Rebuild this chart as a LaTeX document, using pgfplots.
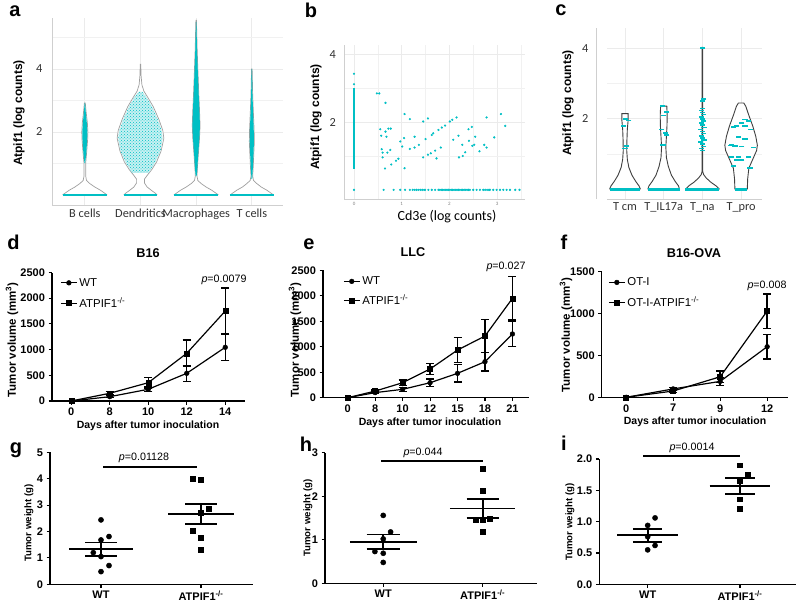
\documentclass[border=0pt]{standalone}
\usepackage{pgfplots}
\pgfplotsset{compat=1.18}
\usetikzlibrary{patterns}
\usepackage{fontspec}
\setmainfont{Liberation Sans}
\newfontfamily\calib{Carlito}
\definecolor{gg}{HTML}{00BFC4}
\definecolor{gridc}{HTML}{EBEBEB}
\definecolor{axc}{HTML}{CFCFCF}
\newcommand\fs[1]{\fontsize{#1}{#1}\selectfont}
\begin{document}
\begin{tikzpicture}
\useasboundingbox (0pt,0pt) rectangle (800pt,-610pt);
\pgfplotsset{
  ggbase/.style={scale only axis, clip=false, anchor=south west,
    axis x line*=bottom, axis y line*=left,
    axis line style={axc, line width=0.8pt},
    major tick length=0pt, minor tick length=0pt,
    grid=both, major grid style={gridc, line width=0.8pt}, minor grid style={gridc!70, line width=0.6pt},
    tick label style={font=\calib\fs{12.3}, text=black!80},
    /pgf/number format/assume math mode=true},
  gp/.style={scale only axis, clip=false, anchor=south west,
    axis x line*=bottom, axis y line*=left,
    axis line style={black, line width=1.1pt},
    tick style={black, line width=1.1pt}, tick align=outside, major tick length=3.5pt,
    tick label style={font=\bfseries\fs{11}},
    /pgf/number format/assume math mode=true, /pgf/number format/1000 sep={},
    legend style={draw=none, fill=none, inner sep=0pt, font=\fs{11.4}, cells={anchor=west}},
    legend image code/.code={\draw[mark repeat=2,mark phase=2,##1] plot coordinates {(0pt,0pt)(8pt,0pt)(16pt,0pt)};}},
  ebar/.style={error bars/y dir=both, error bars/y explicit,
    error bars/error bar style={line width=1.4pt, solid},
    error bars/error mark options={rotate=90, line width=1.4pt, mark size=4pt}},
  lineA/.style={black, line width=1.2pt, mark=*, mark size=2.4pt, mark options={solid,line width=0.4pt}, ebar},
  lineB/.style={black, line width=1.2pt, mark=square*, mark size=2.5pt, mark options={solid,line width=0.4pt}, ebar},
  vio/.style={draw=gray!75, line width=0.7pt, fill=white},
  vioc/.style={draw=black!75, line width=0.9pt, fill=white},
  dotp/.style={only marks, mark=*, mark size=2.6pt, black},
  sqp/.style={only marks, mark=square*, mark size=2.4pt, black},
  meanl/.style={black, line width=1.8pt},
}

% ---------------- panel a ----------------
\begin{axis}[ggbase, at={(52pt,-205pt)}, width=231pt, height=187pt,
  xmin=0.41, xmax=4.56, ymin=-0.32, ymax=5.62,
  xtick={1,2,3,4}, xticklabels={B cells, Dendritics, Macrophages, T cells},
  ytick={2,4}, minor ytick={1,3,5}, yticklabel style={xshift=-6pt}]
% B cells
\addplot[vio] table[row sep=\\, x expr=\thisrow{w}+1, y=y] {w y\\
0.40 0\\ 0.36 0.05\\ 0.28 0.15\\ 0.18 0.25\\ 0.09 0.36\\ 0.03 0.46\\ 0.015 0.6\\ 0.015 1.0\\ 0.03 1.3\\ 0.05 1.75\\ 0.055 2.0\\ 0.045 2.3\\ 0.025 2.6\\ 0.008 2.92\\
-0.008 2.92\\ -0.025 2.6\\ -0.045 2.3\\ -0.055 2.0\\ -0.05 1.75\\ -0.03 1.3\\ -0.015 1.0\\ -0.015 0.6\\ -0.03 0.46\\ -0.09 0.36\\ -0.18 0.25\\ -0.28 0.15\\ -0.36 0.05\\ -0.40 0\\};
\addplot[draw=none, fill=gg] table[row sep=\\, x expr=\thisrow{w}+1, y=y] {w y\\
0.005 1.0\\ 0.025 1.3\\ 0.042 1.75\\ 0.046 2.0\\ 0.035 2.3\\ 0.018 2.6\\ 0.004 2.92\\
-0.004 2.92\\ -0.018 2.6\\ -0.035 2.3\\ -0.046 2.0\\ -0.042 1.75\\ -0.025 1.3\\ -0.005 1.0\\};
% Dendritics
\addplot[vio] table[row sep=\\, x expr=\thisrow{w}+2, y=y] {w y\\
0.30 0\\ 0.27 0.05\\ 0.2 0.14\\ 0.12 0.25\\ 0.07 0.38\\ 0.07 0.5\\ 0.12 0.62\\ 0.2 0.8\\ 0.29 1.05\\ 0.37 1.4\\ 0.42 1.8\\ 0.40 2.05\\ 0.33 2.4\\ 0.23 2.8\\ 0.13 3.1\\ 0.06 3.3\\ 0.025 3.5\\ 0.01 3.8\\ 0.005 4.15\\
-0.005 4.15\\ -0.01 3.8\\ -0.025 3.5\\ -0.06 3.3\\ -0.13 3.1\\ -0.23 2.8\\ -0.33 2.4\\ -0.40 2.05\\ -0.42 1.8\\ -0.37 1.4\\ -0.29 1.05\\ -0.2 0.8\\ -0.12 0.62\\ -0.07 0.5\\ -0.07 0.38\\ -0.12 0.25\\ -0.2 0.14\\ -0.27 0.05\\ -0.30 0\\};
\addplot[draw=none, fill=gg!22, postaction={pattern=crosshatch dots, pattern color=gg}] table[row sep=\\, x expr=\thisrow{w}+2, y=y] {w y\\
0.15 0.7\\ 0.27 1.05\\ 0.36 1.4\\ 0.40 1.8\\ 0.38 2.05\\ 0.31 2.4\\ 0.21 2.8\\ 0.11 3.1\\ 0.03 3.28\\
-0.03 3.28\\ -0.11 3.1\\ -0.21 2.8\\ -0.31 2.4\\ -0.38 2.05\\ -0.40 1.8\\ -0.36 1.4\\ -0.27 1.05\\ -0.15 0.7\\};
% Macrophages
\addplot[vio] table[row sep=\\, x expr=\thisrow{w}+3, y=y] {w y\\
0.40 0\\ 0.36 0.05\\ 0.28 0.15\\ 0.18 0.25\\ 0.09 0.36\\ 0.03 0.46\\ 0.015 0.6\\ 0.02 0.8\\ 0.035 1.2\\ 0.06 1.8\\ 0.07 2.2\\ 0.06 2.7\\ 0.045 3.3\\ 0.03 4.0\\ 0.018 4.6\\ 0.005 5.55\\
-0.005 5.55\\ -0.018 4.6\\ -0.03 4.0\\ -0.045 3.3\\ -0.06 2.7\\ -0.07 2.2\\ -0.06 1.8\\ -0.035 1.2\\ -0.02 0.8\\ -0.015 0.6\\ -0.03 0.46\\ -0.09 0.36\\ -0.18 0.25\\ -0.28 0.15\\ -0.36 0.05\\ -0.40 0\\};
\addplot[draw=none, fill=gg] table[row sep=\\, x expr=\thisrow{w}+3, y=y] {w y\\
0.008 0.6\\ 0.02 0.8\\ 0.033 1.2\\ 0.058 1.8\\ 0.068 2.2\\ 0.058 2.7\\ 0.043 3.3\\ 0.028 4.0\\ 0.016 4.6\\ 0.004 5.5\\
-0.004 5.5\\ -0.016 4.6\\ -0.028 4.0\\ -0.043 3.3\\ -0.058 2.7\\ -0.068 2.2\\ -0.058 1.8\\ -0.033 1.2\\ -0.02 0.8\\ -0.008 0.6\\};
% T cells
\addplot[vio] table[row sep=\\, x expr=\thisrow{w}+4, y=y] {w y\\
0.39 0\\ 0.35 0.05\\ 0.27 0.15\\ 0.17 0.25\\ 0.09 0.36\\ 0.03 0.46\\ 0.015 0.6\\ 0.025 0.9\\ 0.035 1.3\\ 0.045 1.7\\ 0.04 2.1\\ 0.028 2.6\\ 0.015 3.2\\ 0.005 4.0\\
-0.005 4.0\\ -0.015 3.2\\ -0.028 2.6\\ -0.04 2.1\\ -0.045 1.7\\ -0.035 1.3\\ -0.025 0.9\\ -0.015 0.6\\ -0.03 0.46\\ -0.09 0.36\\ -0.17 0.25\\ -0.27 0.15\\ -0.35 0.05\\ -0.39 0\\};
\addplot[draw=none, fill=gg] table[row sep=\\, x expr=\thisrow{w}+4, y=y] {w y\\
0.006 0.5\\ 0.02 0.9\\ 0.03 1.3\\ 0.038 1.7\\ 0.034 2.1\\ 0.023 2.6\\ 0.012 3.2\\ 0.004 4.0\\
-0.004 4.0\\ -0.012 3.2\\ -0.023 2.6\\ -0.034 2.1\\ -0.038 1.7\\ -0.03 1.3\\ -0.02 0.9\\ -0.006 0.5\\};
\addplot[gg, line width=2.5pt] coordinates {(0.60,0)(1.40,0)};
\addplot[gg, line width=2.5pt] coordinates {(1.70,0)(2.30,0)};
\addplot[gg, line width=2.5pt] coordinates {(2.60,0)(3.40,0)};
\addplot[gg, line width=2.5pt] coordinates {(3.61,0)(4.39,0)};
\end{axis}

% ---------------- panel b ----------------
\begin{axis}[ggbase, at={(344pt,-199pt)}, width=181pt, height=154pt,
  xmin=-0.21, xmax=3.585, ymin=-0.27, ymax=4.28,
  xtick={0,1,2,3}, minor xtick={0.5,1.5,2.5,3.5}, ytick={2,4}, minor ytick={1,3},
  yticklabel style={xshift=-4.5pt}, xticklabel style={font=\calib\fs{5}, text=gray}]
\addplot[gg, line width=2.2pt] coordinates {(0,0.63)(0,3.0)};
\addplot[only marks, mark=*, mark size=0.9pt, gg] coordinates {
(0,3.43)(0,3.12)(0,0)
(0.48,2.85)(0.53,2.85)(0.66,2.57)(0.55,1.79)(0.66,1.72)(0.72,1.81)(0.77,1.81)(0.57,1.60)(0.68,1.57)(0.58,1.20)(0.60,1.10)(0.70,1.10)(0.76,1.18)(0.60,0.96)(0.78,0.75)(0.65,0.63)(0.88,0.86)(0.93,0.92)(1.06,2.24)(1.17,2.09)(0.97,1.43)(1.01,1.28)(1.05,1.53)(1.06,0.64)(1.27,1.57)(1.17,1.21)(1.27,1.25)(1.36,1.33)(1.45,2.02)(1.55,2.11)(1.50,1.50)(1.45,0.96)(1.55,1.04)(1.61,1.08)(1.70,1.16)(1.73,0.93)(1.82,1.25)(1.63,1.62)(1.66,1.67)(1.77,1.77)(1.84,1.84)(1.91,1.90)(2.01,2.02)(2.06,2.07)(2.08,1.48)(2.15,2.14)(2.19,1.60)(2.27,1.33)(2.20,0.96)(2.28,1.00)(2.33,1.11)(2.40,1.79)(2.47,1.86)(2.41,1.45)(2.48,1.30)(2.52,1.33)(2.54,1.57)(2.63,1.14)(2.73,1.33)(2.78,1.25)(2.78,2.14)(2.94,1.55)(3.08,2.24)(3.17,1.89)
(0.62,0)(0.83,0)(0.97,0)(1.07,0)(1.17,0)(1.23,0)(1.27,0)(1.31,0)(1.35,0)(1.39,0)(1.43,0)(1.47,0)(1.49,0)(1.56,0)(1.63,0)(1.70,0)(1.77,0)(1.80,0)(1.83,0)(1.86,0)(1.89,0)(1.92,0)(1.95,0)(1.98,0)(2.01,0)(2.04,0)(2.07,0)(2.10,0)(2.13,0)(2.16,0)(2.19,0)(2.22,0)(2.25,0)(2.28,0)(2.31,0)(2.34,0)(2.37,0)(2.40,0)(2.43,0)(2.50,0)(2.57,0)(2.64,0)(2.71,0)(2.75,0)(2.79,0)(2.83,0)(2.85,0)(2.92,0)(2.99,0)(3.06,0)(3.13,0)(3.20,0)(3.27,0)(3.38,0)(3.47,0)};
\end{axis}

% ---------------- panel c ----------------
\begin{axis}[ggbase, at={(607pt,-199pt)}, width=155pt, height=171pt,
  xmin=0.535, xmax=4.54, ymin=-0.275, ymax=4.58,
  xtick={1,2,3,4}, xticklabels={T cm, T\_IL17a, T\_na, T\_pro},
  ytick={2,4}, minor ytick={1,3}, yticklabel style={xshift=-15pt},
  y axis line style={xshift=-11pt}]
\addplot[vioc] table[row sep=\\, x expr=\thisrow{w}+1, y=y] {w y\\
0.40 0\\ 0.36 0.1\\ 0.28 0.22\\ 0.18 0.4\\ 0.10 0.62\\ 0.06 0.85\\ 0.045 1.1\\ 0.05 1.4\\ 0.06 1.7\\ 0.08 1.95\\ 0.08 2.15\\
-0.08 2.15\\ -0.08 1.95\\ -0.06 1.7\\ -0.05 1.4\\ -0.045 1.1\\ -0.06 0.85\\ -0.10 0.62\\ -0.18 0.4\\ -0.28 0.22\\ -0.36 0.1\\ -0.40 0\\};
\addplot[vioc] table[row sep=\\, x expr=\thisrow{w}+2, y=y] {w y\\
0.41 0\\ 0.38 0.1\\ 0.30 0.22\\ 0.20 0.4\\ 0.12 0.65\\ 0.07 0.9\\ 0.055 1.2\\ 0.07 1.5\\ 0.085 1.8\\ 0.09 2.1\\ 0.08 2.36\\
-0.08 2.36\\ -0.09 2.1\\ -0.085 1.8\\ -0.07 1.5\\ -0.055 1.2\\ -0.07 0.9\\ -0.12 0.65\\ -0.20 0.4\\ -0.30 0.22\\ -0.38 0.1\\ -0.41 0\\};
\addplot[vioc] table[row sep=\\, x expr=\thisrow{w}+3, y=y] {w y\\
0.44 0\\ 0.35 0.1\\ 0.22 0.2\\ 0.10 0.32\\ 0.03 0.42\\ 0.01 0.5\\ 0.01 4.03\\
-0.01 4.03\\ -0.01 0.5\\ -0.03 0.42\\ -0.10 0.32\\ -0.22 0.2\\ -0.35 0.1\\ -0.44 0\\};
\addplot[vioc] table[row sep=\\, x expr=\thisrow{w}+4, y=y] {w y\\
0.16 0\\ 0.17 0.3\\ 0.2 0.6\\ 0.3 0.85\\ 0.40 1.1\\ 0.42 1.25\\ 0.38 1.5\\ 0.3 1.8\\ 0.2 2.1\\ 0.12 2.36\\ 0.07 2.45\\
-0.07 2.45\\ -0.12 2.36\\ -0.2 2.1\\ -0.3 1.8\\ -0.38 1.5\\ -0.42 1.25\\ -0.40 1.1\\ -0.3 0.85\\ -0.2 0.6\\ -0.17 0.3\\ -0.16 0\\};
\addplot[only marks, mark=-, mark size=2.6pt, gg, mark options={line width=1.6pt}] coordinates {
(1.02,1.99)(1.10,1.95)(0.96,1.80)(1.04,1.23)(1.00,1.16)
(1.96,2.37)(2.08,2.20)(2.00,2.10)(1.95,1.70)(2.04,1.60)(2.08,1.55)(1.98,1.25)
(3.00,1.10)(2.97,1.16)(3.03,1.22)(3.00,1.28)(2.96,1.34)(3.04,1.40)(3.00,1.46)(2.97,1.52)(3.03,1.58)(3.00,1.64)(2.96,1.70)(3.04,1.76)(3.00,1.82)(2.97,1.88)(3.03,1.94)(3.00,2.00)(2.97,2.06)(3.03,2.12)(3.00,2.18)(2.98,2.24)(3.00,2.30)(3.00,2.50)(3.02,2.57)(3.00,4.02)
(3.80,1.77)(4.02,1.89)(4.10,1.98)(4.19,1.94)(3.89,1.79)(4.10,1.79)(4.25,1.70)(3.93,1.49)(4.10,1.42)(3.76,1.25)(3.84,1.23)(3.72,1.24)(4.02,1.21)(4.32,1.19)(3.76,0.92)(3.93,0.92)(4.19,0.92)(3.89,0.83)(4.02,0.83)(3.80,0.66)(4.23,0.60)};
\addplot[gg, line width=2.5pt] coordinates {(0.60,0)(1.40,0)};
\addplot[gg, line width=2.5pt] coordinates {(1.59,0)(2.41,0)};
\addplot[gg, line width=2.5pt] coordinates {(2.56,0)(3.44,0)};
\addplot[gg, line width=2.5pt] coordinates {(3.84,0)(4.16,0)};
\end{axis}

% ---------------- panel d ----------------
\begin{axis}[gp, at={(52pt,-401pt)}, width=192.5pt, height=128.5pt,
  xmin=-0.5, xmax=4.5, ymin=0, ymax=2500,
  xtick={0,1,2,3,4}, xticklabels={0,8,10,12,14}, ytick={0,500,1000,1500,2000,2500},
  legend style={at={(0.042,0.973)}, anchor=north west, row sep=6pt}]
\addplot[lineA] coordinates {(0,0) +- (0,0) (1,84) +- (0,20) (2,228) +- (0,47) (3,539) +- (0,155) (4,1045) +- (0,260)};
\addlegendentry{WT}
\addplot[lineB] coordinates {(0,0) +- (0,0) (1,150) +- (0,30) (2,356) +- (0,105) (3,928) +- (0,255) (4,1750) +- (0,445)};
\addlegendentry{ATPIF1\textsuperscript{-/-}}
\end{axis}

% ---------------- panel e ----------------
\begin{axis}[gp, at={(323pt,-397.7pt)}, width=205.9pt, height=127.4pt,
  xmin=-0.9, xmax=6.6, ymin=0, ymax=2500,
  xtick={0,1,2,3,4,5,6}, xticklabels={0,8,10,12,15,18,21}, ytick={0,500,1000,1500,2000,2500},
  legend style={at={(0.097,0.967)}, anchor=north west, row sep=5pt}]
\addplot[lineA] coordinates {(0,0) +- (0,0) (1,100) +- (0,20) (2,164) +- (0,40) (3,294) +- (0,75) (4,478) +- (0,170) (5,706) +- (0,180) (6,1250) +- (0,250)};
\addlegendentry{WT}
\addplot[lineB] coordinates {(0,0) +- (0,0) (1,130) +- (0,25) (2,294) +- (0,50) (3,563) +- (0,110) (4,935) +- (0,245) (5,1210) +- (0,320) (6,1949) +- (0,425)};
\addlegendentry{ATPIF1\textsuperscript{-/-}}
\end{axis}

% ---------------- panel f ----------------
\begin{axis}[gp, at={(601.7pt,-397.3pt)}, width=186.6pt, height=125.6pt,
  xmin=-0.52, xmax=3.45, ymin=0, ymax=1500,
  xtick={0,1,2,3}, xticklabels={0,7,9,12}, ytick={0,500,1000,1500},
  legend style={at={(0.034,0.97)}, anchor=north west, row sep=5.5pt}]
\addplot[lineA] coordinates {(0,0) +- (0,0) (1,100) +- (0,20) (2,190) +- (0,50) (3,604) +- (0,145)};
\addlegendentry{OT-I}
\addplot[lineB] coordinates {(0,0) +- (0,0) (1,75) +- (0,20) (2,245) +- (0,70) (3,1030) +- (0,205)};
\addlegendentry{OT-I-ATPIF1\textsuperscript{-/-}}
\end{axis}

% ---------------- panel g ----------------
\begin{axis}[gp, at={(50pt,-584.3pt)}, width=203pt, height=132pt,
  xmin=0.49, xmax=2.52, ymin=0, ymax=5,
  xtick={1,2}, xticklabels={WT, ATPIF1\textsuperscript{-/-}}, ytick={0,1,2,3,4,5}]
\addplot[meanl] coordinates {(1.02,4.43)(1.96,4.43)};
\addplot[dotp] coordinates {(1,2.44)(1,1.68)(1.08,1.81)(0.923,1.2)(1,1.05)(1.08,0.71)(1,0.48)};
\addplot[sqp] coordinates {(1.917,4.01)(2,3.96)(2.08,2.85)(2,2.7)(1.917,2.03)(2,1.78)(2,1.30)};
\addplot[meanl] coordinates {(0.68,1.33)(1.32,1.33)};
\addplot[meanl] coordinates {(0.84,1.58)(1.16,1.58)};
\addplot[meanl] coordinates {(0.84,1.08)(1.16,1.08)};
\addplot[meanl] coordinates {(1,1.08)(1,1.58)};
\addplot[meanl] coordinates {(1.67,2.66)(2.33,2.66)};
\addplot[meanl] coordinates {(1.84,3.05)(2.16,3.05)};
\addplot[meanl] coordinates {(1.84,2.27)(2.16,2.27)};
\addplot[meanl] coordinates {(2,2.27)(2,3.05)};
\end{axis}

% ---------------- panel h ----------------
\begin{axis}[gp, at={(325pt,-583.3pt)}, width=212.3pt, height=130.6pt,
  xmin=0.414, xmax=2.55, ymin=0, ymax=3,
  xtick={1,2}, xticklabels={WT, ATPIF1\textsuperscript{-/-}}, ytick={0,1,2,3}]
\addplot[meanl] coordinates {(0.98,2.81)(2.0,2.81)};
\addplot[dotp] coordinates {(1,1.56)(1.074,1.18)(1,1.02)(0.916,0.73)(1,0.69)(1,0.48)};
\addplot[sqp] coordinates {(2,2.63)(2,2.12)(1.93,1.46)(2.074,1.49)(2,1.46)(2,1.19)};
\addplot[meanl] coordinates {(0.665,0.95)(1.335,0.95)};
\addplot[meanl] coordinates {(0.834,1.12)(1.166,1.12)};
\addplot[meanl] coordinates {(0.834,0.79)(1.166,0.79)};
\addplot[meanl] coordinates {(1,0.79)(1,1.12)};
\addplot[meanl] coordinates {(1.67,1.72)(2.33,1.72)};
\addplot[meanl] coordinates {(1.84,1.94)(2.16,1.94)};
\addplot[meanl] coordinates {(1.84,1.50)(2.16,1.50)};
\addplot[meanl] coordinates {(2,1.50)(2,1.94)};
\end{axis}

% ---------------- panel i ----------------
\begin{axis}[gp, at={(599.3pt,-584.3pt)}, width=197pt, height=125.3pt,
  xmin=0.476, xmax=2.61, ymin=0, ymax=2,
  xtick={1,2}, xticklabels={WT, ATPIF1\textsuperscript{-/-}}, ytick={0,0.5,1,1.5,2},
  yticklabel style={/pgf/number format/.cd, fixed, fixed zerofill, precision=1}]
\addplot[meanl] coordinates {(0.95,2.05)(2.0,2.05)};
\addplot[dotp] coordinates {(1.08,1.06)(1,0.94)(1,0.76)(1.08,0.62)(1,0.55)};
\addplot[sqp] coordinates {(2,1.90)(2.08,1.75)(2,1.65)(2,1.36)(2,1.21)};
\addplot[meanl] coordinates {(0.67,0.79)(1.33,0.79)};
\addplot[meanl] coordinates {(0.84,0.88)(1.16,0.88)};
\addplot[meanl] coordinates {(0.84,0.68)(1.16,0.68)};
\addplot[meanl] coordinates {(1,0.68)(1,0.88)};
\addplot[meanl] coordinates {(1.67,1.57)(2.33,1.57)};
\addplot[meanl] coordinates {(1.84,1.70)(2.16,1.70)};
\addplot[meanl] coordinates {(1.84,1.44)(2.16,1.44)};
\addplot[meanl] coordinates {(2,1.44)(2,1.70)};
\end{axis}

% ---------------- texts ----------------
\begin{scope}[every node/.style={font=\bfseries\fs{20}}]
\node at (15pt,-11pt) {a};
\node at (311pt,-10pt) {b};
\node at (561pt,-10pt) {c};
\node at (13.5pt,-242pt) {d};
\node at (309pt,-244pt) {e};
\node at (564pt,-242pt) {f};
\node at (16pt,-450pt) {g};
\node at (306pt,-444pt) {h};
\node at (564pt,-443pt) {i};
\end{scope}
\node[rotate=90, font=\bfseries\fs{12}] at (19pt,-113pt) {Atpif1 (log counts)};
\node[rotate=90, font=\bfseries\fs{12}] at (316pt,-117pt) {Atpif1 (log counts)};
\node[rotate=90, font=\bfseries\fs{12}] at (568pt,-103pt) {Atpif1 (log counts)};
\node[font=\calib\fs{14}] at (447pt,-217pt) {Cd3e (log counts)};
\node[font=\bfseries\fs{12.7}] at (148pt,-253pt) {B16};
\node[font=\bfseries\fs{12.7}] at (413pt,-252pt) {LLC};
\node[font=\bfseries\fs{12.7}] at (694pt,-253pt) {B16-OVA};
\node[rotate=90, font=\bfseries\fs{11.5}] at (12pt,-340pt) {Tumor volume (mm\textsuperscript{3})};
\node[rotate=90, font=\bfseries\fs{11.5}] at (295pt,-340pt) {Tumor volume (mm\textsuperscript{3})};
\node[rotate=90, font=\bfseries\fs{11.5}] at (566pt,-335pt) {Tumor volume (mm\textsuperscript{3})};
\node[font=\bfseries\fs{10.5}] at (148pt,-426pt) {Days after tumor inoculation};
\node[font=\bfseries\fs{10.5}] at (430pt,-423pt) {Days after tumor inoculation};
\node[font=\bfseries\fs{10.5}] at (695pt,-422pt) {Days after tumor inoculation};
\node[rotate=90, font=\bfseries\fs{9.6}] at (29pt,-523pt) {Tumor weight (g)};
\node[rotate=90, font=\bfseries\fs{9.6}] at (308pt,-518pt) {Tumor weight (g)};
\node[rotate=90, font=\bfseries\fs{9.6}] at (570pt,-522pt) {Tumor weight (g)};
\begin{scope}[every node/.style={font=\fs{10.7}}]
\node at (224pt,-280pt) {\textit{p}=0.0079};
\node at (506pt,-267pt) {\textit{p}=0.027};
\node at (767pt,-286pt) {\textit{p}=0.008};
\node at (144pt,-458pt) {\textit{p}=0.01128};
\node at (423pt,-453pt) {\textit{p}=0.044};
\node at (692pt,-448pt) {\textit{p}=0.0014};
\end{scope}
\end{tikzpicture}
\end{document}
